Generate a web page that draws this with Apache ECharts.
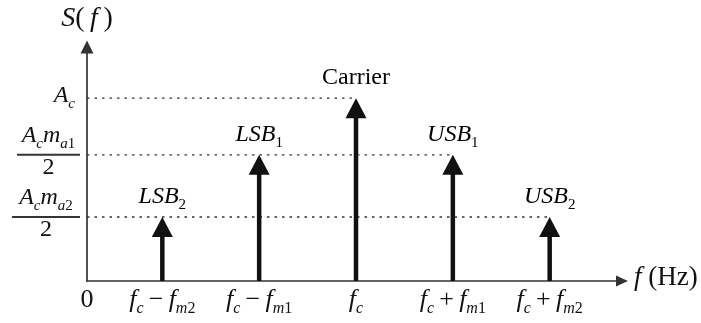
<!DOCTYPE html>
<html>
<head>
<meta charset="utf-8">
<script src="https://cdn.jsdelivr.net/npm/echarts@6/dist/echarts.min.js"></script>
<style>
  html, body { margin: 0; padding: 0; background: #ffffff; }
  #chart { width: 701px; height: 323px; }
</style>
</head>
<body>
<div id="chart"></div>
<script>
// Spectral lines of a two-tone AM signal (carrier = 100 frequency units)
const lineFreqs = [28, 64, 100, 136, 172];
const lineAmps = [35, 69, 100, 69, 35];
const lineNames = ['{i|LSB}{n|2}', '{i|LSB}{n|1}', '{o|Carrier}', '{i|USB}{n|1}', '{i|USB}{n|2}'];

// Dotted reference levels and where each one stops
const levelValues = [100, 69, 35];
const levelEnds = [100, 136, 172];

// Tick labels
const xTickValues = [0, 28, 64, 100, 136, 172];
const xTickLabels = [
  '{o|0}',
  '{i|f}{s|c}{o|\u2009−\u2009}{i|f}{s|m}{n|2}',
  '{i|f}{s|c}{o|\u2009−\u2009}{i|f}{s|m}{n|1}',
  '{i|f}{s|c}',
  '{i|f}{s|c}{o|\u2009+\u2009}{i|f}{s|m}{n|1}',
  '{i|f}{s|c}{o|\u2009+\u2009}{i|f}{s|m}{n|2}'
];
const yTickValues = [35, 69, 100];
const yTickLabels = [
  '{fi|A}{fs|c}{fi|m}{fs|a}{fn|2}\n{bar2| }\n{fd|2}',
  '{fi|A}{fs|c}{fi|m}{fs|a}{fn|1}\n{bar1| }\n{fd|2}',
  '{i|A}{sr|c}'
];

const FONT = '"Liberation Serif", "Times New Roman", serif';
const INK = '#111';

// Rich-text styles for italic symbols with lowered subscripts
function richStyles(big, small) {
  const lh = Math.round(big * 1.25);
  const drop = Math.round(big * 0.55);
  const main = { fontFamily: FONT, fontSize: big, lineHeight: lh, color: INK, verticalAlign: 'top' };
  const sub = { fontFamily: FONT, fontSize: small, lineHeight: small + 1, color: INK, verticalAlign: 'top', padding: [drop, 0, 0, 0] };
  return {
    i: Object.assign({}, main, { fontStyle: 'italic' }),
    o: Object.assign({}, main),
    s: Object.assign({}, sub, { fontStyle: 'italic' }),
    sr: Object.assign({}, sub, { fontStyle: 'italic', padding: [drop, 5, 0, 0] }),
    n: Object.assign({}, sub),
    fi: Object.assign({}, main, { fontStyle: 'italic', align: 'center' }),
    fs: Object.assign({}, sub, { fontStyle: 'italic', align: 'center' }),
    fn: Object.assign({}, sub, { align: 'center' }),
    fd: Object.assign({}, main, { align: 'center' }),
    bar1: { width: 63, height: 2, lineHeight: 2, fontSize: 2, backgroundColor: '#333', align: 'center' },
    bar2: { width: 68, height: 2, lineHeight: 2, fontSize: 2, backgroundColor: '#333', align: 'center' }
  };
}

const chart = echarts.init(document.getElementById('chart'), null, { renderer: 'canvas' });

const levelSeries = levelValues.map(function (v, k) {
  return {
    type: 'line',
    data: [[0, v], [levelEnds[k], v]],
    symbol: 'none',
    silent: true,
    z: 1,
    lineStyle: { color: '#333', width: 1.3, type: [2.5, 5] }
  };
});

chart.setOption({
  animation: false,
  backgroundColor: '#ffffff',
  grid: { left: 87, right: 76, top: 47, bottom: 42 },
  xAxis: {
    type: 'value',
    min: 0,
    max: 200,
    name: '{i|f}{o| (Hz)}',
    nameLocation: 'end',
    nameGap: 9,
    nameTextStyle: { rich: richStyles(27, 17), verticalAlign: 'middle' },
    splitLine: { show: false },
    axisTick: { show: false },
    axisLine: {
      show: true,
      symbol: ['none', 'triangle'],
      symbolSize: [11, 12],
      symbolOffset: [0, -3],
      lineStyle: { color: '#333', width: 1.7 }
    },
    axisLabel: {
      customValues: xTickValues,
      margin: 6,
      formatter: function (v) {
        const k = xTickValues.indexOf(v);
        return k >= 0 ? xTickLabels[k] : '';
      },
      rich: richStyles(26, 16)
    }
  },
  yAxis: {
    type: 'value',
    min: 0,
    max: 128,
    name: '{i|S}{o|(\u2009}{i|f}{o|\u2009)}',
    nameLocation: 'end',
    nameGap: 7,
    nameTextStyle: { rich: richStyles(28, 17) },
    splitLine: { show: false },
    axisTick: { show: false },
    axisLine: {
      show: true,
      symbol: ['none', 'triangle'],
      symbolSize: [13, 13],
      lineStyle: { color: '#333', width: 1.7 }
    },
    axisLabel: {
      customValues: yTickValues,
      margin: 7,
      formatter: function (v) {
        const k = yTickValues.indexOf(v);
        return k >= 0 ? yTickLabels[k] : '';
      },
      rich: richStyles(24, 15)
    }
  },
  series: levelSeries.concat([{
    type: 'custom',
    z: 5,
    data: lineFreqs.map(function (f, k) { return [f, lineAmps[k], k]; }),
    renderItem: function (params, api) {
      const f = api.value(0), a = api.value(1), k = api.value(2);
      const base = api.coord([f, 0]);
      const tip = api.coord([f, a]);
      const headH = 20, headW = 21;
      return {
        type: 'group',
        children: [
          {
            type: 'line',
            shape: { x1: base[0], y1: base[1], x2: tip[0], y2: tip[1] + headH - 1 },
            style: { stroke: INK, lineWidth: 4.5 }
          },
          {
            type: 'polygon',
            shape: { points: [[tip[0], tip[1]], [tip[0] - headW / 2, tip[1] + headH], [tip[0] + headW / 2, tip[1] + headH]] },
            style: { fill: INK }
          },
          {
            type: 'text',
            x: tip[0],
            y: tip[1] - 2,
            style: {
              text: lineNames[k],
              rich: richStyles(24, 15),
              align: 'center',
              verticalAlign: 'bottom'
            }
          }
        ]
      };
    }
  }])
});
</script>
</body>
</html>
